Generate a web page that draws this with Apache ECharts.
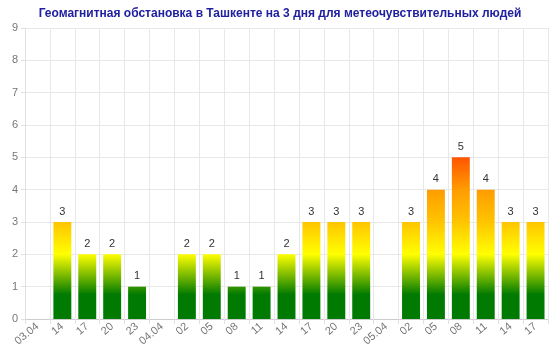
<!DOCTYPE html>
<html><head><meta charset="utf-8">
<script src="https://cdn.jsdelivr.net/npm/echarts@6/dist/echarts.min.js"></script>
<style>html,body{margin:0;padding:0;background:#fff}#c{width:560px;height:351px}</style>
</head><body><div id="c"></div>
<script>
const title = 'Геомагнитная обстановка в Ташкенте на 3 дня для метеочувствительных людей';
const categories = ['03.04','14','17','20','23','04.04','02','05','08','11','14','17','20','23','05.04','02','05','08','11','14','17'];
const values = [null,3,2,2,1,null,2,2,1,1,2,3,3,3,null,3,4,5,4,3,3];
const yTicks = [0,1,2,3,4,5,6,7,8,9];
// colour scale along the value axis
const scaleStops = [[0,'#007a00'],[0.75,'#007a00'],[2,'#ffff00'],[3,'#ffc400'],[4,'#ff9c00'],[5,'#ff5500'],[9,'#ff0000']];

function hex(c){return [parseInt(c.slice(1,3),16),parseInt(c.slice(3,5),16),parseInt(c.slice(5,7),16)];}
function colorAt(v){
  for(let i=1;i<scaleStops.length;i++){
    const [a,ca]=scaleStops[i-1],[b,cb]=scaleStops[i];
    if(v<=b){const t=(v-a)/(b-a);const A=hex(ca),B=hex(cb);
      return 'rgb('+A.map((x,k)=>Math.round(x+(B[k]-x)*t)).join(',')+')';}
  }
  return scaleStops[scaleStops.length-1][1];
}
function grad(v){
  const stops=[];
  scaleStops.forEach(([s,c])=>{ if(s<v) stops.push({offset:1-s/v,color:c}); });
  stops.push({offset:0,color:colorAt(v)});
  stops.sort((a,b)=>a.offset-b.offset);
  return new echarts.graphic.LinearGradient(0,0,0,1,stops);
}
const data = values.map(v => v==null ? null : {value:v,itemStyle:{color:grad(v)}});

const chart = echarts.init(document.getElementById('c'));
chart.setOption({
  animation:false,
  title:{text:title,left:'center',top:3,textStyle:{color:'#2020a0',fontSize:12,fontWeight:'bold',fontFamily:'Liberation Sans, Arial'}},
  grid:{left:25,right:12,top:28,bottom:32,containLabel:false},
  xAxis:{type:'category',data:categories,
    axisLine:{lineStyle:{color:'#cccccc'}},
    axisTick:{show:true,length:5,lineStyle:{color:'#e0e0e0'}},
    splitLine:{show:true,lineStyle:{color:'#e8e8e8'}},
    axisLabel:{rotate:40,color:'#777',fontSize:11,fontFamily:'Liberation Sans, Arial',margin:6,interval:0}},
  yAxis:{type:'value',min:yTicks[0],max:yTicks[yTicks.length-1],interval:1,
    axisLine:{show:true,lineStyle:{color:'#e0e0e0'}},
    axisTick:{show:true,length:4,lineStyle:{color:'#e0e0e0'}},
    splitLine:{lineStyle:{color:'#e8e8e8'}},
    axisLabel:{color:'#777',fontSize:11,fontFamily:'Liberation Sans, Arial',margin:7}},
  series:[{type:'bar',data:data,barCategoryGap:'28%',
    label:{show:true,position:'top',color:'#333',fontSize:11,fontFamily:'Liberation Sans, Arial',distance:5}}]
});
</script></body></html>
